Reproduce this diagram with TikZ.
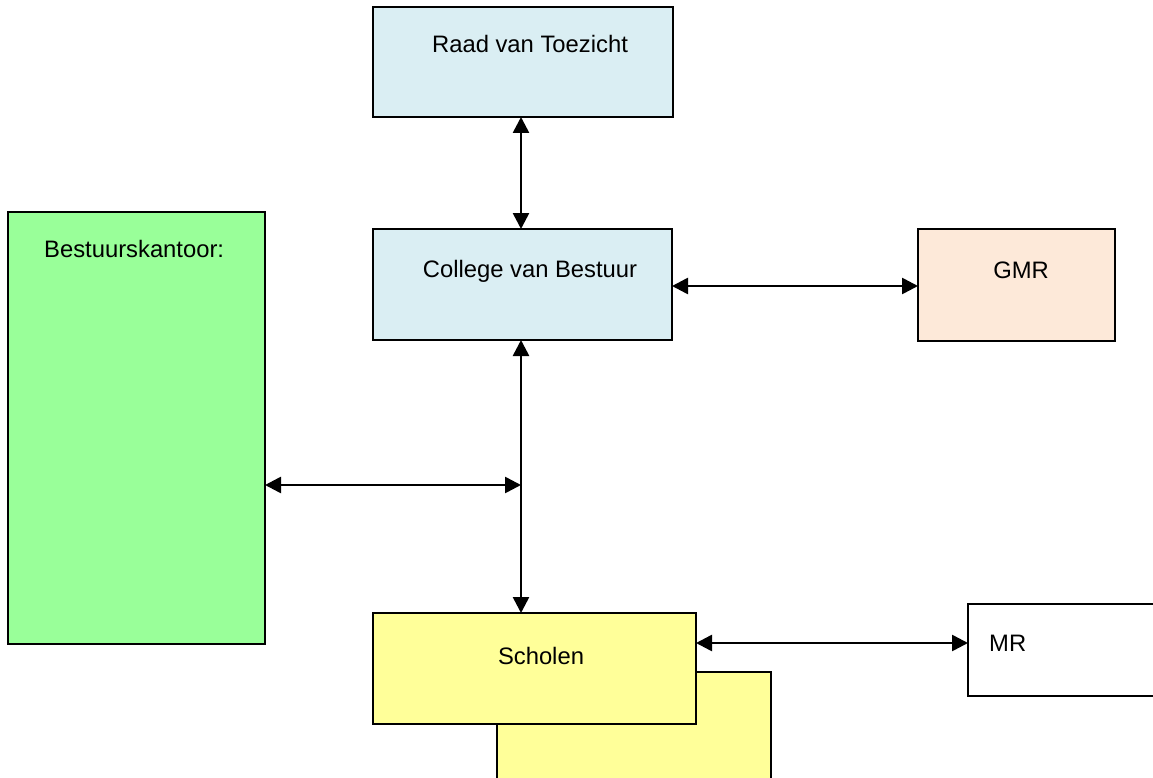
\documentclass[tikz,border=0pt]{standalone}
\usepackage{fontspec}
\setmainfont{Liberation Sans}
\usetikzlibrary{arrows.meta}
\definecolor{lblue}{HTML}{DAEEF3}
\definecolor{peach}{HTML}{FDE9D9}
\definecolor{lgreen}{HTML}{99FF99}
\definecolor{lyellow}{HTML}{FFFF99}
\begin{document}
\begin{tikzpicture}[x=1pt,y=-1pt,
  box/.style={draw=black,line width=2.2pt,inner sep=0pt,outer sep=0pt,anchor=north west},
  lbl/.style={anchor=base,inner sep=0pt,font=\fontsize{23.8}{28}\selectfont},
  conn/.style={line width=2.6pt,{Triangle[length=16pt,width=16pt]}-{Triangle[length=16pt,width=16pt]}}]
\useasboundingbox (0,0) rectangle (1153,778);
\fill[white] (0,0) rectangle (1153,778);
% boxes
\node[box,fill=lblue,minimum width=300pt,minimum height=110pt] (raad) at (373,7) {};
\node[box,fill=lblue,minimum width=299pt,minimum height=111pt] (cvb) at (373,229) {};
\node[box,fill=peach,minimum width=197pt,minimum height=112pt] (gmr) at (918,229) {};
\node[box,fill=lgreen,minimum width=257pt,minimum height=432pt] (bk) at (8,212) {};
\node[box,fill=lyellow,minimum width=274pt,minimum height=120pt] (back) at (497,672) {};
\node[box,fill=lyellow,minimum width=323pt,minimum height=111pt] (sch) at (373,613) {};
\node[box,fill=white,minimum width=200pt,minimum height=92pt] (mr) at (968,604) {};
% texts
\node[lbl] (traad) at (530,53) {Raad van Toezicht};
\node[lbl] (tcvb) at (530,277) {College van Bestuur};
\node[lbl] (tgmr) at (1021,278) {GMR};
\node[lbl,anchor=base west] (tbk) at (44,257) {Bestuurskantoor:};
\node[lbl] (tsch) at (541,664) {Scholen};
\node[lbl,anchor=base west] (tmr) at (989,651) {MR};
% connectors
\coordinate (j) at (521,485);
\draw[conn] (raad.south -| 521,0) -- (cvb.north -| 521,0);
\draw[conn] (cvb.east |- 0,286) -- (gmr.west |- 0,286);
\draw[conn] (cvb.south -| 521,0) -- (sch.north -| 521,0);
\draw[conn] (bk.east |- j) -- (j);
\draw[conn] (sch.east |- 0,643) -- (mr.west |- 0,643);
\end{tikzpicture}
\end{document}
